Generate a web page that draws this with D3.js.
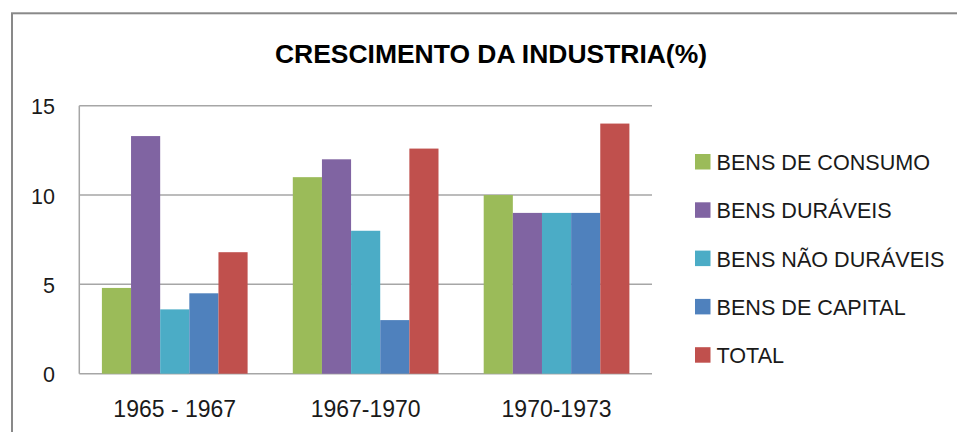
<!DOCTYPE html>
<html>
<head>
<meta charset="utf-8">
<script src="https://cdn.jsdelivr.net/npm/d3@7"></script>
<style>
  html, body { margin: 0; padding: 0; background: #fff; }
  svg { display: block; }
  text { font-family: "Liberation Sans", Arial, sans-serif; fill: #1a1a1a; }
</style>
</head>
<body>
<svg id="chart" width="957" height="432"></svg>
<script>
const title = "CRESCIMENTO DA INDUSTRIA(%)";
const categories = ["1965 - 1967", "1967-1970", "1970-1973"];
const seriesNames = ["BENS DE CONSUMO", "BENS DURÁVEIS", "BENS NÃO DURÁVEIS", "BENS DE CAPITAL", "TOTAL"];
const seriesColors = ["#9BBB59", "#8064A2", "#4BACC6", "#4F81BD", "#C0504D"];
const bensDeConsumo = [4.8, 11, 10];
const bensDuraveis = [13.3, 12, 9];
const bensNaoDuraveis = [3.6, 8, 9];
const bensDeCapital = [4.5, 3, 9];
const total = [6.8, 12.6, 14];
const yTicks = [0, 5, 10, 15];

const seriesValues = [bensDeConsumo, bensDuraveis, bensNaoDuraveis, bensDeCapital, total];

const svg = d3.select("#chart");

// chart outer border
svg.append("rect")
  .attr("x", 12).attr("y", 13.3)
  .attr("width", 980).attr("height", 460)
  .attr("fill", "none").attr("stroke", "#898989").attr("stroke-width", 2);

// title
const t = svg.append("text")
  .attr("x", 491).attr("y", 62.7)
  .attr("text-anchor", "middle")
  .style("font-size", "26px").style("font-weight", "bold")
  .style("fill", "#000")
  .text(title);
t.attr("textLength", 432).attr("lengthAdjust", "spacingAndGlyphs");

const plot = { left: 79.3, right: 652, top: 105.7, bottom: 373.7 };

const y = d3.scaleLinear().domain([0, 15]).range([plot.bottom, plot.top]);
const x0 = d3.scaleBand().domain(categories).range([plot.left, plot.right]).padding(0);
const bw = x0.bandwidth();
const x1 = d3.scaleBand().domain(seriesNames).range([22.6, bw - 22.6]).padding(0);

// gridlines
svg.append("g").selectAll("line").data(yTicks).join("line")
  .attr("x1", plot.left).attr("x2", plot.right)
  .attr("y1", d => y(d)).attr("y2", d => y(d))
  .attr("stroke", "#A6A6A6").attr("stroke-width", 1.5);

// left axis line
svg.append("line")
  .attr("x1", plot.left).attr("x2", plot.left)
  .attr("y1", plot.top).attr("y2", plot.bottom)
  .attr("stroke", "#A6A6A6").attr("stroke-width", 1.5);

// bars
const groups = svg.append("g").selectAll("g").data(categories).join("g")
  .attr("transform", d => `translate(${x0(d)},0)`);
groups.selectAll("rect")
  .data((c, ci) => seriesNames.map((s, si) => ({ s, si, v: seriesValues[si][ci] })))
  .join("rect")
  .attr("x", d => x1(d.s))
  .attr("width", x1.bandwidth())
  .attr("y", d => y(d.v))
  .attr("height", d => y(0) - y(d.v))
  .attr("fill", d => seriesColors[d.si]);

// y tick labels
svg.append("g").selectAll("text").data(yTicks).join("text")
  .attr("x", 55).attr("y", d => y(d) + 8.5)
  .attr("text-anchor", "end")
  .style("font-size", "21.5px")
  .text(d => d);

// x labels
svg.append("g").selectAll("text").data(categories).join("text")
  .attr("x", d => x0(d) + bw / 2).attr("y", 416.7)
  .attr("text-anchor", "middle")
  .style("font-size", "23px")
  .text(d => d);

// legend
const legend = svg.append("g").selectAll("g").data(seriesNames).join("g")
  .attr("transform", (d, i) => `translate(695,${162 + i * 48.3})`);
legend.append("rect")
  .attr("x", 0).attr("y", -8).attr("width", 15.5).attr("height", 15.5)
  .attr("fill", (d, i) => seriesColors[i]);
legend.append("text")
  .attr("x", 21.5).attr("y", 8)
  .style("font-size", "21.6px")
  .text(d => d);
</script>
</body>
</html>
